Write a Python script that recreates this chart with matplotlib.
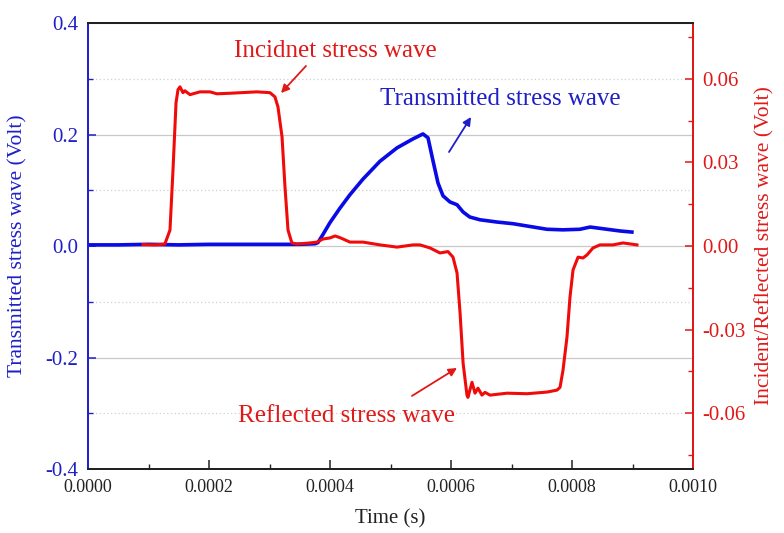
import matplotlib
matplotlib.use("Agg")
import matplotlib.pyplot as plt
from matplotlib.ticker import MultipleLocator, FormatStrFormatter
import numpy as np

plt.rcParams['font.family'] = ['Liberation Serif', 'DejaVu Serif']
plt.rcParams['axes.unicode_minus'] = False

# Transmitted bar signal (left axis, Volt); time in ms
trans_time_ms = [0.0, 0.05, 0.10, 0.15, 0.20, 0.25, 0.30, 0.35, 0.375, 0.380,
                 0.388, 0.400, 0.4165, 0.433, 0.4545, 0.4826, 0.5107, 0.537,
                 0.5537, 0.562, 0.570, 0.5785, 0.5868, 0.5983, 0.610, 0.620,
                 0.631, 0.648, 0.676, 0.7025, 0.7306, 0.7587, 0.785, 0.813,
                 0.830, 0.858, 0.879, 0.899]
trans_volt = [0.002, 0.002, 0.003, 0.002, 0.003, 0.003, 0.003, 0.003, 0.004, 0.006,
              0.020, 0.042, 0.068, 0.092, 0.120, 0.152, 0.176, 0.192,
              0.201, 0.194, 0.154, 0.113, 0.090, 0.079, 0.074, 0.061,
              0.052, 0.047, 0.043, 0.040, 0.035, 0.030, 0.029, 0.030,
              0.034, 0.030, 0.027, 0.025]

# Incident / reflected bar signal (right axis, Volt); time in ms
ir_time_ms = [0.091, 0.110, 0.127, 0.1355, 0.1405, 0.1455, 0.1488, 0.152, 0.157,
              0.160, 0.1686, 0.185, 0.2017, 0.213, 0.2347, 0.2793, 0.3008, 0.309,
              0.314, 0.3207, 0.3256, 0.3306, 0.337, 0.3455, 0.3669, 0.3785,
              0.3884, 0.400, 0.4083, 0.4165, 0.433, 0.4545, 0.4826, 0.5107,
              0.5372, 0.5488, 0.5653, 0.5818, 0.595, 0.6033, 0.610, 0.615,
              0.620, 0.6264, 0.628, 0.6347, 0.6397, 0.6446, 0.6512, 0.6562,
              0.6645, 0.6926, 0.7256, 0.7587, 0.7752, 0.7802, 0.7851, 0.7917,
              0.7967, 0.8017, 0.810, 0.8182, 0.8248, 0.8347, 0.8463, 0.8678,
              0.8843, 0.9074]
ir_volt = [0.0005, 0.0004, 0.0007, 0.0057, 0.0273, 0.0514, 0.0561, 0.0571, 0.0550,
           0.0557, 0.0543, 0.0553, 0.0553, 0.0546, 0.0548, 0.0553, 0.0550, 0.0535,
           0.0499, 0.0392, 0.0212, 0.0057, 0.0011, 0.0007, 0.0011, 0.0014,
           0.0025, 0.0029, 0.0036, 0.0030, 0.0014, 0.0014, 0.0004, -0.0004,
           0.0004, 0.0004, -0.0007, -0.0025, -0.0020, -0.0040, -0.0097, -0.0241,
           -0.0420, -0.0535, -0.0543, -0.0489, -0.0528, -0.0510, -0.0535, -0.0525,
           -0.0535, -0.0528, -0.0530, -0.0524, -0.0517, -0.0507, -0.0446, -0.0327,
           -0.0183, -0.0086, -0.0040, -0.0043, -0.0032, -0.0007, 0.0004, 0.0004,
           0.0011, 0.0004]

BLUE = '#0a0ae6'
RED = '#f00a0a'
BLUE_TXT = '#1f1fc8'
RED_TXT = '#e01818'

fig = plt.figure(figsize=(7.84, 5.33), dpi=100)
ax = fig.add_axes([88 / 784, 1 - 469 / 533, 605 / 784, 446 / 533])
ax2 = ax.twinx()

t_trans = np.array(trans_time_ms) * 1e-3
t_ir = np.array(ir_time_ms) * 1e-3

ax.plot(t_trans, trans_volt, color=BLUE, lw=2.6, solid_joinstyle='round')
ax2.plot(t_ir, ir_volt, color=RED, lw=2.2, solid_joinstyle='round')

ax.set_xlim(0, 0.001)
ax.set_ylim(-0.4, 0.4)
ax2.set_ylim(-0.08, 0.08)

ax.xaxis.set_major_locator(MultipleLocator(0.0002))
ax.xaxis.set_minor_locator(MultipleLocator(0.0001))
ax.xaxis.set_major_formatter(FormatStrFormatter('%.4f'))
ax.yaxis.set_major_locator(MultipleLocator(0.2))
ax.yaxis.set_minor_locator(MultipleLocator(0.1))
ax.yaxis.set_major_formatter(FormatStrFormatter('%.1f'))
ax2.yaxis.set_major_locator(MultipleLocator(0.03))
ax2.yaxis.set_minor_locator(MultipleLocator(0.015))
ax2.yaxis.set_major_formatter(FormatStrFormatter('%.2f'))

# grid: solid at majors, dotted at minors
ax.grid(which='major', axis='y', color='#c8c8c8', lw=0.9, ls='-')
ax.grid(which='minor', axis='y', color='#d0d0d0', lw=0.9, ls=(0, (1, 2)))
ax.set_axisbelow(True)

ax.tick_params(axis='x', which='major', direction='in', length=6.5, width=1.1,
               labelsize=13, pad=7, colors='#222222', top=False)
ax.tick_params(axis='x', which='minor', direction='in', length=3.5, width=1.0,
               top=False, colors='#222222')
ax.tick_params(axis='y', which='major', direction='in', length=5.5, width=1.1,
               labelsize=15, pad=7, colors=BLUE_TXT)
ax.tick_params(axis='y', which='minor', direction='in', length=3.5, width=1.0,
               colors=BLUE_TXT)
ax2.tick_params(axis='y', which='major', direction='in', length=5.5, width=1.1,
                labelsize=15, pad=7, colors=RED_TXT)
ax2.tick_params(axis='y', which='minor', direction='in', length=3.5, width=1.0,
                colors=RED_TXT)

for a in (ax, ax2):
    for s in a.spines.values():
        s.set_linewidth(1.4)
    a.spines['top'].set_color('#222222')
    a.spines['bottom'].set_color('#222222')
    a.spines['left'].set_color('#2020d0')
    a.spines['right'].set_color('#e01818')

ax.set_xlabel('Time (s)', fontsize=15, color='#222222', va='center')
ax.xaxis.set_label_coords(0.5, -0.112)
ax.set_ylabel('Transmitted stress wave (Volt)', fontsize=15.5, color=BLUE_TXT,
              va='center')
ax.yaxis.set_label_coords(-0.1157, 0.5)
ax2.set_ylabel('Incident/Reflected stress wave (Volt)', fontsize=15.5,
               color=RED_TXT, va='center', rotation=90)
ax2.yaxis.set_label_coords(1.119, 0.5)

arrow_kw = dict(arrowstyle='-|>', mutation_scale=12, lw=1.3, shrinkA=0, shrinkB=0)

ax2.text(0.000409, 0.339 / 5, 'Incidnet stress wave', color=RED_TXT, fontsize=18,
         ha='center', va='baseline')
ax2.annotate('', xy=(0.000319, 0.2744 / 5), xytext=(0.0003603, 0.3229 / 5),
             arrowprops=dict(color=RED_TXT, **arrow_kw))

ax2.text(0.000681, 0.253 / 5, 'Transmitted stress wave', color=BLUE_TXT, fontsize=18,
         ha='center', va='baseline')
ax2.annotate('', xy=(0.0006331, 0.2314 / 5), xytext=(0.0005967, 0.1686 / 5),
             arrowprops=dict(color=BLUE_TXT, **arrow_kw))

ax2.text(0.000427, -0.316 / 5, 'Reflected stress wave', color=RED_TXT, fontsize=18,
         ha='center', va='baseline')
ax2.annotate('', xy=(0.0006099, -0.2188 / 5), xytext=(0.0005355, -0.2689 / 5),
             arrowprops=dict(color=RED_TXT, **arrow_kw))

fig.savefig('out.png', dpi=100, facecolor='white')
